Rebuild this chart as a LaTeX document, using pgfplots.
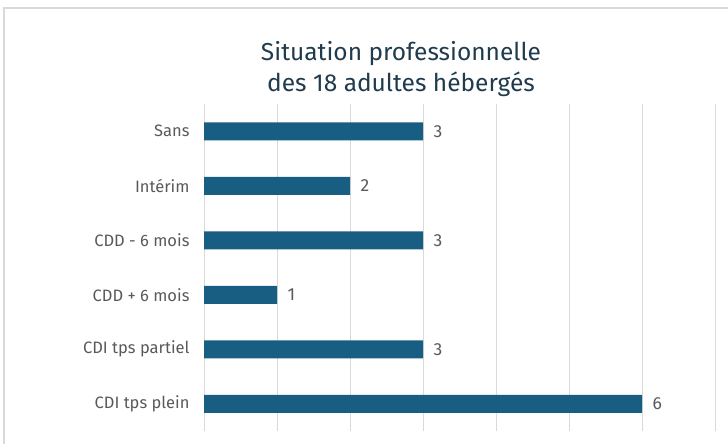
\documentclass[border=0pt]{standalone}
\usepackage{fontspec}
\setmainfont{Fira Sans}
\usepackage{pgfplots}
\pgfplotsset{compat=1.18}
\definecolor{barc}{HTML}{185E82}
\definecolor{titc}{HTML}{1F3B4D}
\definecolor{gridc}{HTML}{D9D9D9}
\definecolor{lab}{HTML}{595959}
\begin{document}
\begin{tikzpicture}
\useasboundingbox (0,0) rectangle (728bp,444bp);
\draw[gridc, line width=1.5bp] (4bp,0) -- (4bp,436bp) -- (728bp,436bp);
\node[titc, font=\fontsize{24.5bp}{31bp}\selectfont, align=center] at (401bp,375bp) {Situation professionnelle\\des 18 adultes hébergés};
\begin{axis}[at={(204bp,13bp)}, anchor=south west, scale only axis, width=511bp, height=327bp,
 xbar, bar width=18bp, xmin=0, xmax=7, ymin=-0.5, ymax=5.5, y dir=reverse,
 ytick={0,...,5}, yticklabels={Sans,Intérim,CDD - 6 mois,CDD + 6 mois,CDI tps partiel,CDI tps plein},
 xtick={0,...,7}, xticklabel style={text opacity=0}, xmajorgrids, grid style={gridc, line width=1bp},
 axis line style={draw=none}, major tick length=0pt,
 yticklabel style={font=\fontsize{16.5bp}{18bp}\selectfont, text=lab, xshift=-11bp},
 /pgf/number format/assume math mode=true,
 nodes near coords, nodes near coords style={font=\fontsize{17.5bp}{20bp}\selectfont, text=lab, anchor=west, xshift=7bp},
 clip=false]
\addplot[fill=barc, draw=none] coordinates {(3,0) (2,1) (3,2) (1,3) (3,4) (6,5)};
\end{axis}
\end{tikzpicture}
\end{document}
